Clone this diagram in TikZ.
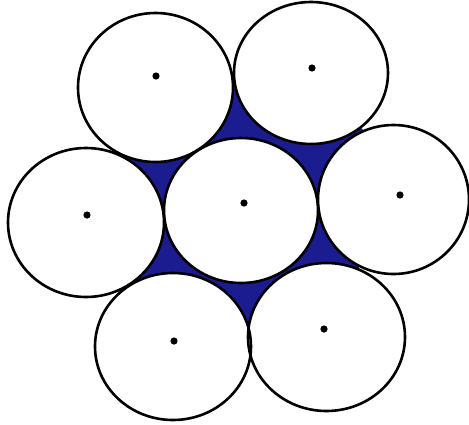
\documentclass[tikz,border=0pt]{standalone}
\definecolor{fillblue}{RGB}{28,28,145}
\tikzset{
  ringfill/.style={fill=white},
  ringline/.style={draw=black, line width=2.6pt},
  centerdot/.style={fill=black}
}
\begin{document}
\begin{tikzpicture}[x=1pt,y=-1pt]
\useasboundingbox (0,0) rectangle (469,424);
% circle centres
\coordinate (TL) at (155.5,87.5);
\coordinate (TR) at (311,73);
\coordinate (L) at (86,222.5);
\coordinate (C) at (241,210.5);
\coordinate (R) at (393.5,199.5);
\coordinate (BL) at (173,346.5);
\coordinate (BR) at (326.5,337);
% junctions between neighbouring outer circles
\coordinate (jTLTR) at (235,88);
\coordinate (jTRR) at (364,131);
\coordinate (jRBR) at (359,267);
\coordinate (jBRBL) at (249,322);
\coordinate (jBLL) at (140,281);
\coordinate (jLTL) at (131,158);
% blue interstices
\fill[fillblue] (TL) -- (jTLTR) -- (TR) -- (jTRR) -- (R) -- (jRBR) -- (BR)
  -- (jBRBL) -- (BL) -- (jBLL) -- (L) -- (jLTL) -- cycle;
% white discs
\fill[ringfill] (TL) ellipse [x radius=77.5, y radius=74.5];
\fill[ringfill] (TR) ellipse [x radius=77, y radius=71];
\fill[ringfill] (L) ellipse [x radius=78, y radius=74.5];
\fill[ringfill] (C) ellipse [x radius=77, y radius=72.5];
\fill[ringfill] (R) ellipse [x radius=75.5, y radius=74.5];
\fill[ringfill] (BL) ellipse [x radius=78, y radius=73.5];
\fill[ringfill] (BR) ellipse [x radius=78.5, y radius=74];
% outlines
\draw[ringline] (TL) ellipse [x radius=77.5, y radius=74.5];
\draw[ringline] (TR) ellipse [x radius=77, y radius=71];
\draw[ringline] (L) ellipse [x radius=78, y radius=74.5];
\draw[ringline] (C) ellipse [x radius=77, y radius=72.5];
\draw[ringline] (R) ellipse [x radius=75.5, y radius=74.5];
\draw[ringline] (BL) ellipse [x radius=78, y radius=73.5];
\draw[ringline] (BR) ellipse [x radius=78.5, y radius=74];
% centre dots
\fill[centerdot] (156,76) circle (3.6);
\fill[centerdot] (312,68) circle (3.6);
\fill[centerdot] (87,215) circle (3.6);
\fill[centerdot] (244,203) circle (3.6);
\fill[centerdot] (400,195) circle (3.6);
\fill[centerdot] (174,341) circle (3.6);
\fill[centerdot] (324,329) circle (3.6);
\end{tikzpicture}
\end{document}
